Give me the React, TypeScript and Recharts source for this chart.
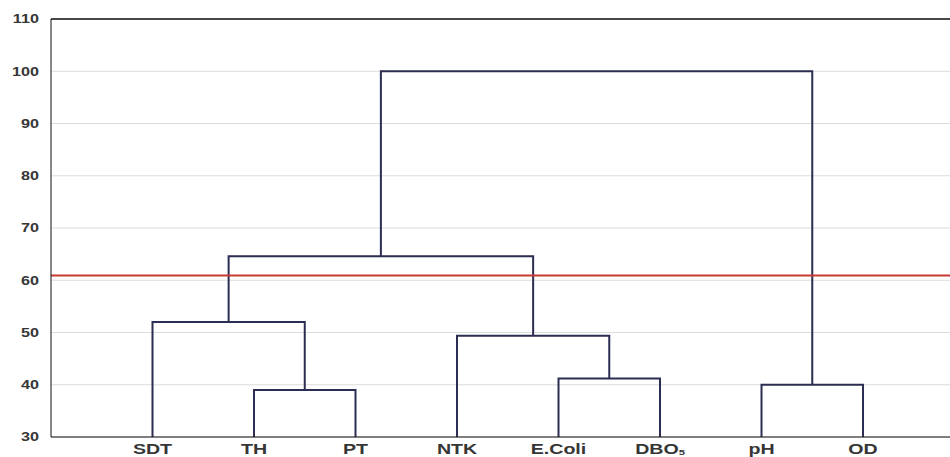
import React from 'react';
import { LineChart, Line, XAxis, YAxis, CartesianGrid, ReferenceLine } from 'recharts';

// leaves of the dendrogram, left to right
const leaves = ['SDT', 'TH', 'PT', 'NTK', 'E.Coli', 'DBO5', 'pH', 'OD'];

// merges: id, left child, right child, linkage distance
const mergeIds = ['C1', 'C2', 'C3', 'C4', 'C5', 'C6', 'C7'];
const mergeLeft = ['TH', 'E.Coli', 'pH', 'SDT', 'NTK', 'C4', 'C6'];
const mergeRight = ['PT', 'DBO5', 'OD', 'C1', 'C2', 'C5', 'C3'];
const mergeHeights = [39, 41.2, 40, 52, 49.4, 64.6, 100];

const cutHeight = 60.9;
const yTicks = [30, 40, 50, 60, 70, 80, 90, 100, 110];

const LINK_COLOR = '#2b2d52';
const TEXT_COLOR = '#363636';
const FONT = '"Liberation Sans", Arial, sans-serif';

// positions of every node, leaves sit on the floor of the axis
const pos: Record<string, { x: number; y: number }> = {};
leaves.forEach((name, i) => {
  pos[name] = { x: i + 1, y: 30 };
});
const links = mergeIds.map((id, i) => {
  const l = pos[mergeLeft[i]];
  const r = pos[mergeRight[i]];
  const h = mergeHeights[i];
  pos[id] = { x: (l.x + r.x) / 2, y: h };
  return {
    id,
    points: [
      { x: l.x, y: l.y },
      { x: l.x, y: h },
      { x: r.x, y: h },
      { x: r.x, y: r.y },
    ],
  };
});

const XTick = (props: any) => {
  const { x, y, payload } = props;
  const name = leaves[payload.value - 1];
  if (!name) return null;
  const isDbo = name === 'DBO5';
  return (
    <g transform={`translate(${x},${y + 17}) scale(1.4,1)`}>
      <text x={0} y={0} textAnchor="middle" fill={TEXT_COLOR} fontSize={14} fontWeight="bold" fontFamily={FONT}>
        {isDbo ? (
          <>
            DBO
            <tspan fontSize={8} dy={1}>5</tspan>
          </>
        ) : (
          name
        )}
      </text>
    </g>
  );
};

const YTick = (props: any) => {
  const { x, y, payload } = props;
  return (
    <g transform={`translate(${x - 12},${y + 4.3}) scale(1.35,1)`}>
      <text x={0} y={0} textAnchor="end" fill={TEXT_COLOR} fontSize={12} fontWeight="bold" fontFamily={FONT}>
        {payload.value}
      </text>
    </g>
  );
};

export default function App() {
  return (
    <div style={{ position: 'absolute', left: 0, top: 0, background: '#fff' }}>
      <LineChart width={950} height={457} margin={{ top: 19, right: 0, left: 0, bottom: 0 }}>
        <CartesianGrid vertical={false} stroke="#dcdcdc" strokeWidth={1} />
        <XAxis
          type="number"
          dataKey="x"
          domain={[0, 8.857]}
          ticks={[1, 2, 3, 4, 5, 6, 7, 8]}
          tick={<XTick />}
          tickLine={false}
          tickSize={0}
          tickMargin={0}
          height={20}
          stroke="#111"
          allowDataOverflow
        />
        <YAxis
          type="number"
          domain={[30, 110]}
          ticks={yTicks}
          tick={<YTick />}
          tickLine={false}
          tickSize={0}
          tickMargin={0}
          width={51}
          stroke="#111"
          allowDataOverflow
        />
        <ReferenceLine y={110} stroke="#111" strokeWidth={1.5} />
        {links.map((link) => (
          <Line
            key={link.id}
            data={link.points}
            dataKey="y"
            type="linear"
            stroke={LINK_COLOR}
            strokeWidth={2}
            dot={false}
            activeDot={false}
            isAnimationActive={false}
          />
        ))}
        <ReferenceLine y={cutHeight} stroke="#c83a30" strokeWidth={2} />
      </LineChart>
    </div>
  );
}
